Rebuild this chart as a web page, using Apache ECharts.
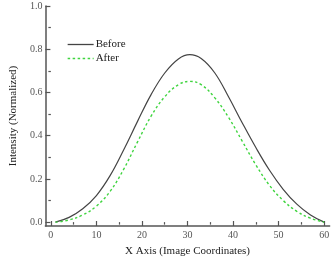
<!DOCTYPE html>
<html>
<head>
<meta charset="utf-8">
<script src="https://cdn.jsdelivr.net/npm/echarts@6/dist/echarts.min.js"></script>
<style>html,body{margin:0;padding:0;background:#fff}#c{width:332px;height:262px}</style>
</head>
<body>
<div id="c"></div>
<script>
const xValues = [1, 4, 7, 10, 13, 16, 19, 22, 25, 28, 30.5, 33, 36, 39, 42, 45, 48, 51, 54, 57, 60];
const beforeValues = [0.0, 0.022, 0.062, 0.123, 0.215, 0.335, 0.465, 0.59, 0.69, 0.755, 0.775, 0.757, 0.69, 0.58, 0.46, 0.345, 0.24, 0.152, 0.083, 0.033, 0.0];
const afterValues = [0.0, 0.01, 0.033, 0.074, 0.142, 0.245, 0.37, 0.49, 0.58, 0.636, 0.651, 0.636, 0.575, 0.485, 0.375, 0.265, 0.17, 0.1, 0.05, 0.018, 0.0];
const xMajorTicks = [0, 10, 20, 30, 40, 50, 60];
const xMinorTicks = [5, 15, 25, 35, 45, 55];
const yMajorTicks = [0, 0.2, 0.4, 0.6, 0.8, 1.0];
const yMinorTicks = [0.1, 0.3, 0.5, 0.7, 0.9];
const seriesNames = ['Before', 'After'];

const font = 'Liberation Serif';
const axisColor = '#555';
const chart = echarts.init(document.getElementById('c'));
const pair = (xs, ys) => xs.map((x, i) => [x, ys[i]]);

const xBase = {type: 'value', min: -1.2, max: 61.2, gridIndex: 0, splitLine: {show: false}};
const yBase = {type: 'value', min: -0.018, max: 1.0, gridIndex: 0, splitLine: {show: false}};

chart.setOption({
  animation: false,
  grid: {left: 37, right: 0, top: 6, height: 224, containLabel: false},
  legend: {
    orient: 'vertical', left: 62, top: 34, itemWidth: 26, itemHeight: 13, itemGap: 3,
    itemStyle: {opacity: 0},
    lineStyle: {width: 1.3},
    textStyle: {fontFamily: font, fontSize: 11, color: '#222', padding: [0, 0, 0, -3]},
    data: seriesNames
  },
  xAxis: [
    Object.assign({}, xBase, {
      name: 'X Axis (Image Coordinates)', nameLocation: 'middle', nameGap: 20,
      nameTextStyle: {fontFamily: font, fontSize: 11, color: '#222'},
      axisLine: {onZero: false, lineStyle: {color: axisColor, width: 1.5}},
      axisTick: {inside: true, length: 5, customValues: xMajorTicks, lineStyle: {color: axisColor, width: 1.2}},
      axisLabel: {customValues: xMajorTicks, fontFamily: font, fontSize: 10, color: '#555', margin: 4}
    }),
    Object.assign({}, xBase, {
      axisLine: {show: false},
      axisTick: {inside: true, length: 2.5, customValues: xMinorTicks, lineStyle: {color: axisColor, width: 1.2}},
      axisLabel: {show: false}
    })
  ],
  yAxis: [
    Object.assign({}, yBase, {
      name: 'Intensity (Normalized)', nameLocation: 'middle', nameGap: 23,
      nameTextStyle: {fontFamily: font, fontSize: 11, color: '#222'},
      axisLine: {onZero: false, lineStyle: {color: axisColor, width: 1.5}},
      axisTick: {inside: true, length: 5, customValues: yMajorTicks, lineStyle: {color: axisColor, width: 1.2}},
      axisLabel: {customValues: yMajorTicks, fontFamily: font, fontSize: 10, color: '#555', margin: 3,
        formatter: v => v.toFixed(1)}
    }),
    Object.assign({}, yBase, {
      axisLine: {show: false},
      axisTick: {inside: true, length: 2.5, customValues: yMinorTicks, lineStyle: {color: axisColor, width: 1.2}},
      axisLabel: {show: false}
    })
  ],
  series: [
    {name: seriesNames[0], type: 'line', smooth: 0.4, showSymbol: false, symbol: 'none',
      data: pair(xValues, beforeValues), itemStyle: {color: '#444'},
      lineStyle: {color: '#444', width: 1.2}},
    {name: seriesNames[1], type: 'line', smooth: 0.4, showSymbol: false, symbol: 'none',
      data: pair(xValues, afterValues), itemStyle: {color: '#3fd43f'},
      lineStyle: {color: '#3fd43f', width: 1.4, type: [2.5, 2.5]}}
  ]
});
</script>
</body>
</html>
